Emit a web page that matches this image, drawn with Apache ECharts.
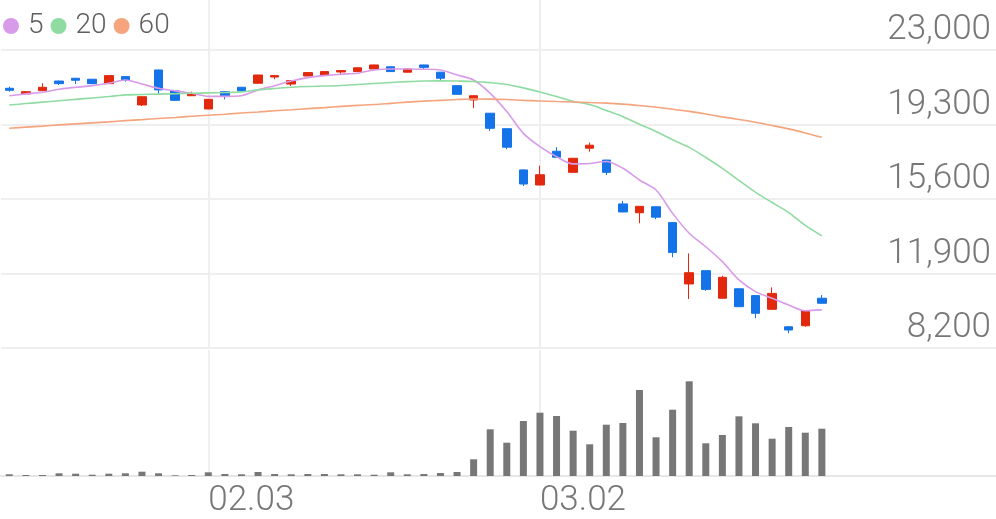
<!DOCTYPE html>
<html><head><meta charset="utf-8">
<script src="https://cdn.jsdelivr.net/npm/echarts@6/dist/echarts.min.js"></script>
<style>html,body{margin:0;padding:0;background:#fff}#c{width:996px;height:519px}</style>
</head><body><div id="c"></div>
<script>
const dates = ['01.16','01.19','01.20','01.21','01.22','01.23','01.26','01.27','01.28','01.29','01.30','02.02',
  '02.03','02.04','02.05','02.06','02.09','02.10','02.11','02.12','02.13','02.16','02.17','02.18','02.19','02.20',
  '02.23','02.24','02.25','02.26','02.27','02.28','03.02','03.03','03.04','03.05','03.06','03.09','03.10','03.11',
  '03.12','03.13','03.16','03.17','03.18','03.19','03.20','03.23','03.24','03.25'];
const futureDates = ['03.26','03.27','03.30','03.31','04.01','04.02','04.03','04.06','04.07','04.08'];
const dateTicks = ['02.03','03.02'];
const yTicks = [8200, 11900, 15600, 19300, 23000];

// [open, close, low, high]
const ohlc = [
  [21100,21000,20930,21180],[20820,20930,20810,20940],[20980,21150,20970,21350],[21460,21330,21260,21480],
  [21600,21500,21310,21610],[21550,21330,21310,21560],[21330,21730,21320,21740],[21680,21500,21430,21690],
  [20270,20680,20220,20690],[22010,21020,20820,22030],[20970,20500,20490,20980],[20730,20820,20720,20930],
  [20070,20550,20060,20560],[20930,20720,20550,20940],[21150,20970,20960,21160],[21350,21760,21340,21770],
  [21660,21730,21550,21740],[21310,21480,21210,21490],[21710,21880,21700,21890],[21760,21930,21750,21940],
  [21910,21980,21800,21990],[21930,22120,21920,22130],[22060,22260,22050,22270],[22170,21930,21920,22180],
  [21900,22060,21890,22070],[22260,22140,22060,22270],[21900,21600,21500,21910],[21230,20800,20790,21240],
  [20520,20730,20110,20740],[19860,19110,18980,19870],[19090,18170,18070,19100],[17040,16340,16240,17060],
  [16290,16800,16280,17250],[17970,17670,17660,18170],[16920,17620,16910,17630],[18120,18270,17950,18400],
  [17530,16920,16790,17540],[15350,14950,14940,15500],[14910,15230,14390,15240],[15210,14690,14590,15220],
  [14420,12940,12700,14430],[11370,11930,10620,12890],[12030,11100,11030,12040],[10660,11700,10650,11780],
  [11130,10240,10230,11140],[10790,9910,9660,10800],[10110,10900,10100,11200],[9240,9080,8920,9260],
  [9290,10030,9240,10040],[10660,10410,10400,10820]
];
const volume = [17000,10000,10000,27000,23000,13000,23000,27000,43000,27000,7000,10000,37000,20000,17000,40000,
  20000,17000,20000,20000,17000,17000,13000,37000,17000,20000,30000,40000,167000,467000,333000,550000,633000,
  600000,453000,317000,513000,530000,860000,387000,663000,947000,327000,410000,597000,527000,373000,490000,433000,473000];
const ma5 = [20730,20820,20900,21050,21150,21230,21350,21510,21310,21100,20970,20850,20700,20700,20730,21020,21230,
  21460,21630,21730,21800,21850,22010,22060,22060,22050,22010,21760,21510,20850,19940,18860,18200,17700,17340,17360,
  17460,17120,16540,16040,14880,13890,13220,12480,11570,10990,10660,10320,10040,10080];
const ma20 = [20270,20340,20410,20480,20550,20620,20690,20770,20790,20810,20830,20850,20870,20890,20920,21020,21090,
  21150,21190,21210,21240,21290,21340,21390,21430,21460,21470,21460,21440,21380,21290,21120,20920,20690,20450,20290,
  20000,19690,19310,18950,18540,18160,17660,17120,16520,15920,15420,14920,14280,13760];
const ma60 = [19110,19170,19220,19280,19330,19380,19430,19490,19540,19600,19650,19710,19760,19810,19870,19920,19980,
  20030,20090,20140,20200,20250,20290,20350,20410,20460,20500,20540,20570,20560,20540,20500,20470,20440,20420,20390,
  20360,20310,20240,20160,20060,19950,19820,19680,19550,19410,19250,19080,18880,18660];

const categories = dates.concat(futureDates);
const RED = '#e2290d', BLUE = '#1473e8', GRID = '#efefef', TXT = '#777';
const FONT = 'Roboto';

const chart = echarts.init(document.getElementById('c'), null, {renderer: 'canvas'});
const vline = {
  symbol: ['none','none'], silent: true, label: {show: false}, z: 0,
  lineStyle: {color: GRID, width: 2, type: 'solid'},
  emphasis: {disabled: true},
  data: dateTicks.map(d => ({xAxis: d}))
};
chart.setOption({
  animation: false,
  backgroundColor: '#fff',
  legend: {
    data: ['5','20','60'], left: 3, top: 12, padding: 0,
    icon: 'circle', itemWidth: 16, itemHeight: 16, itemGap: 7,
    textStyle: {fontSize: 28, color: '#5f5f5f', fontFamily: FONT, fontWeight: 300, padding: [0,0,0,4]}
  },
  grid: [
    {left: 1, right: 0, top: 0, height: 347.7},
    {left: 1, right: 0, top: 350, bottom: 43}
  ],
  xAxis: [
    {type: 'category', gridIndex: 0, data: categories, boundaryGap: true, show: false},
    {type: 'category', gridIndex: 1, data: categories, boundaryGap: true,
     axisLine: {show: true, lineStyle: {color: '#e6e6e6', width: 2}},
     axisTick: {show: false}, splitLine: {show: false},
     axisLabel: {interval: (i, v) => dateTicks.includes(v), align: 'left', margin: 8,
       fontSize: 35, color: TXT, fontFamily: FONT, fontWeight: 300}}
  ],
  yAxis: [
    {type: 'value', gridIndex: 0, position: 'right', min: yTicks[0], max: 25490,
     interval: yTicks[1] - yTicks[0],
     axisLine: {show: false}, axisTick: {show: false},
     splitLine: {show: true, showMaxLine: false, lineStyle: {color: GRID, width: 2}},
     axisLabel: {inside: true, margin: 5, showMaxLabel: false, fontSize: 35, color: TXT,
       fontFamily: FONT, fontWeight: 300, verticalAlign: 'bottom', lineHeight: 35, padding: [0,0,2,0],
       formatter: v => v.toLocaleString('en-US')}},
    {type: 'value', gridIndex: 1, min: 0, max: 1260000, show: false, splitLine: {show: false}}
  ],
  series: [
    {name: 'vgrid0', type: 'line', xAxisIndex: 0, yAxisIndex: 0, data: [], z: 0, zlevel: 0, markLine: vline},
    {name: 'vgrid1', type: 'line', xAxisIndex: 1, yAxisIndex: 1, data: [], z: 0, zlevel: 0, markLine: vline},
    {name: 'price', type: 'candlestick', xAxisIndex: 0, yAxisIndex: 0, data: ohlc, barWidth: 9, z: 3,
     itemStyle: {color: RED, color0: BLUE, borderColor: RED, borderColor0: BLUE, borderColorDoji: RED, borderWidth: 1}},
    {name: '5', type: 'line', data: ma5, symbol: 'none', smooth: 0.3, z: 4, color: '#d79be9',
     lineStyle: {color: '#d79be9', width: 1.6}},
    {name: '20', type: 'line', data: ma20, symbol: 'none', smooth: 0.3, z: 4, color: '#8fdba2',
     lineStyle: {color: '#8fdba2', width: 1.6}},
    {name: '60', type: 'line', data: ma60, symbol: 'none', smooth: 0.3, z: 4, color: '#f5a47e',
     lineStyle: {color: '#f5a47e', width: 1.6}},
    {name: 'vol', type: 'bar', xAxisIndex: 1, yAxisIndex: 1, data: volume, barWidth: 7, z: 3,
     itemStyle: {color: '#777'}}
  ]
});
</script></body></html>
